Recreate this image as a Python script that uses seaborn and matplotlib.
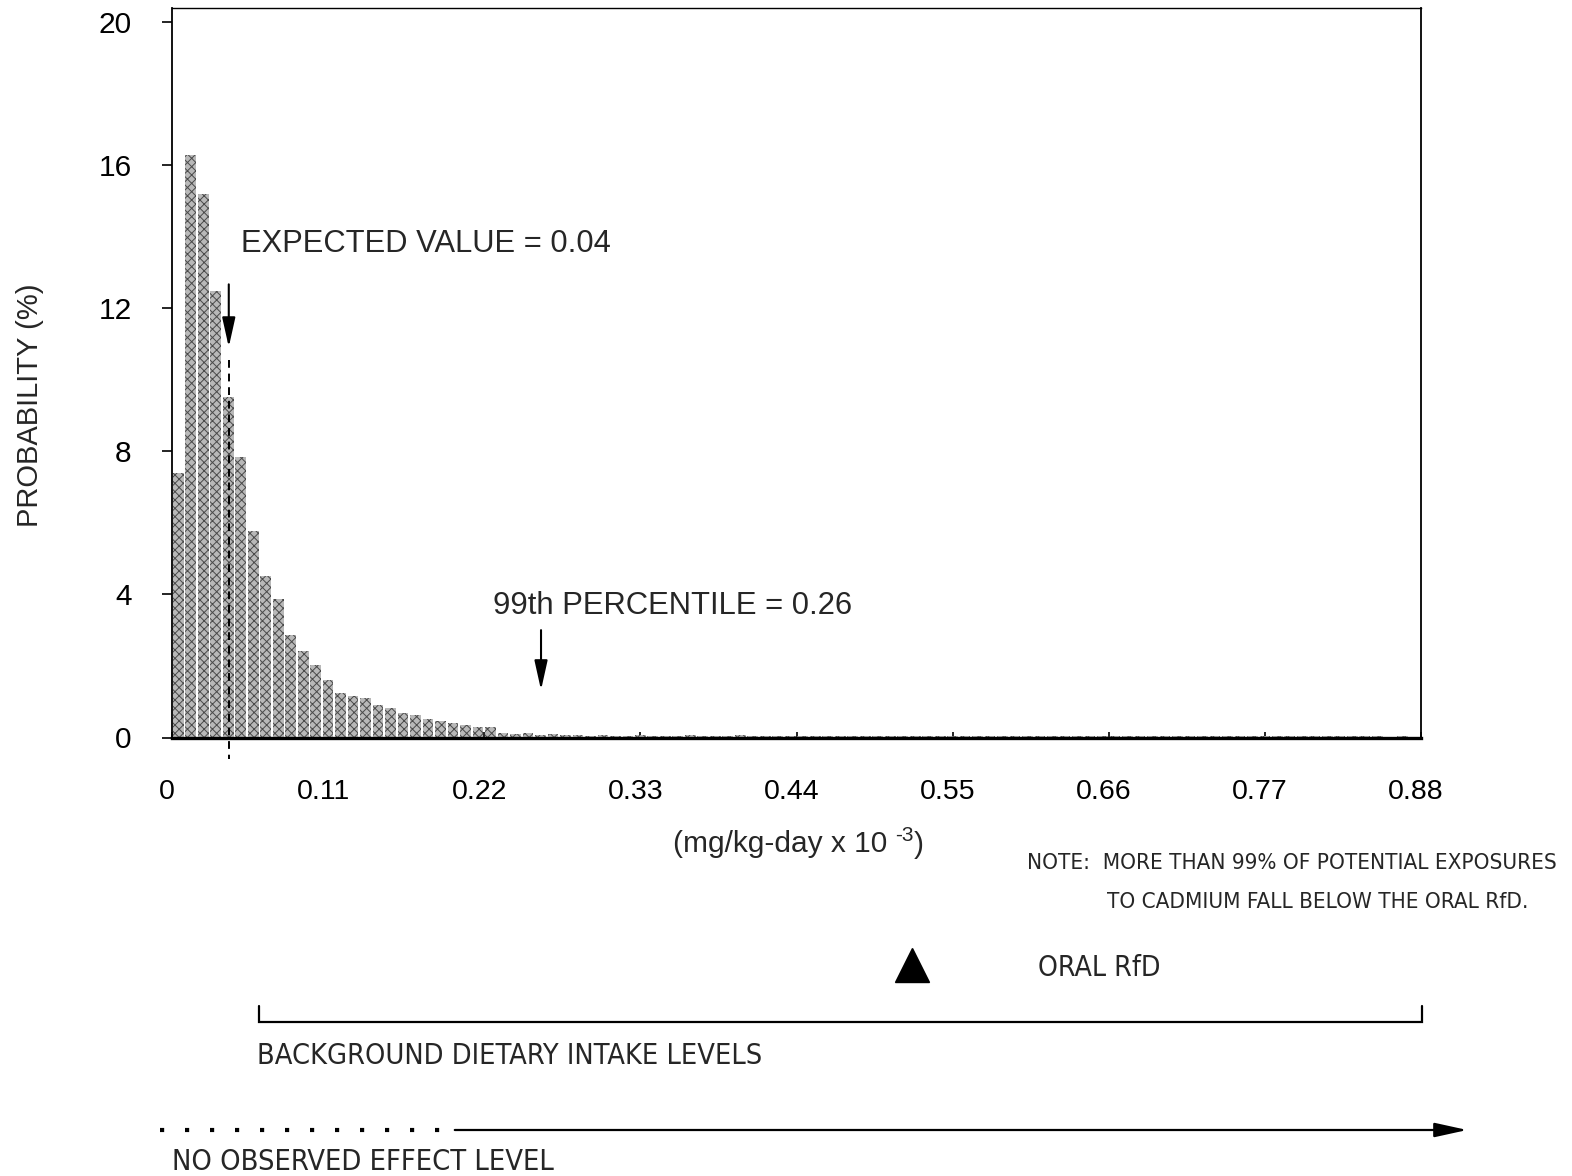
import numpy as np
import pandas as pd
import matplotlib
matplotlib.use("Agg")
import matplotlib.pyplot as plt
import matplotlib.transforms as mtrans
import seaborn as sns
from matplotlib import font_manager as fm
from matplotlib.font_manager import FontProperties

# Probability (%) for each of 100 equal dose intervals between 0 and 0.88
prob_head = [7.39, 16.30, 15.21, 12.48, 9.52, 7.85, 5.77, 4.51, 3.88, 2.88,
             2.41, 2.04, 1.62, 1.25, 1.16, 1.11, 0.90, 0.83, 0.68, 0.62,
             0.52, 0.47, 0.40, 0.35, 0.30, 0.30, 0.12, 0.10, 0.12, 0.08,
             0.10, 0.08]
prob_tail = [0.06, 0.05, 0.07, 0.05, 0.04, 0.06, 0.05, 0.04, 0.05, 0.06,
             0.04, 0.05, 0.04, 0.06, 0.05, 0.04, 0.05, 0.04, 0.03, 0.05,
             0.04, 0.05, 0.04, 0.03, 0.05, 0.04, 0.04, 0.05, 0.03, 0.04,
             0.05, 0.04, 0.03, 0.04, 0.05, 0.04, 0.03, 0.04, 0.04, 0.05,
             0.03, 0.04, 0.05, 0.04, 0.03, 0.04, 0.04, 0.03, 0.05, 0.04,
             0.03, 0.04, 0.04, 0.03, 0.04, 0.05, 0.03, 0.04, 0.04, 0.03,
             0.04, 0.03, 0.04, 0.03, 0.03, 0.02, 0.03, 0.02]
dose_min, dose_max = 0.0, 0.88

x_ticks = [0, 0.11, 0.22, 0.33, 0.44, 0.55, 0.66, 0.77, 0.88]
x_tick_labels = ["0", "0.11", "0.22", "0.33", "0.44", "0.55", "0.66", "0.77", "0.88"]
y_ticks = [0, 4, 8, 12, 16, 20]

expected_value = 0.04
percentile_99 = 0.26

sns.set_theme(style="white")
names = {f.name for f in fm.fontManager.ttflist}
base_font = "Liberation Sans" if "Liberation Sans" in names else "DejaVu Sans"
plt.rcParams["font.family"] = [base_font, "DejaVu Sans"]
plt.rcParams["hatch.color"] = "#4a4a4a"
plt.rcParams["hatch.linewidth"] = 0.7


def find_condensed_font():
    """Pick an upright, regular-weight narrow sans face if one is installed."""
    families = ["Liberation Sans Narrow", "Noto Sans", "DejaVu Sans", "Roboto",
                "Open Sans", "Lato", "Inter", "Liberation Sans"]
    best = None
    for rank, fam in enumerate(families):
        for f in fm.fontManager.ttflist:
            nm = f.name
            if not nm.startswith(fam) or "Mono" in nm or "CJK" in nm or "Display" in nm:
                continue
            if f.style != "normal" or str(f.weight).lower() not in ("400", "normal", "regular", "book"):
                continue
            narrow = ("Narrow" in nm or "Condensed" in nm or "Narrow" in f.fname
                      or "Condensed" in f.fname or f.stretch in ("condensed", "semi-condensed"))
            if not narrow:
                continue
            if "Extra" in f.fname or "Ultra" in f.fname or "Semi" in f.fname:
                score = (rank, 1)
            else:
                score = (rank, 0)
            if best is None or score < best[0]:
                best = (score, f.fname)
    return FontProperties(fname=best[1]) if best else FontProperties(family=base_font)


narrow_fp = find_condensed_font()

W, H = 1572, 1176
fig = plt.figure(figsize=(W / 100, H / 100), dpi=100)
fig.patch.set_facecolor("white")

ax_l, ax_r, ax_t, ax_b = 172, 1421, 8, 737.5
ax = fig.add_axes([ax_l / W, 1 - ax_b / H, (ax_r - ax_l) / W, (ax_b - ax_t) / H])

probs = np.array(prob_head + prob_tail)
n_bins = len(probs)
bin_w = (dose_max - dose_min) / n_bins
centers = dose_min + bin_w * (np.arange(n_bins) + 0.5)
df = pd.DataFrame({"dose": centers, "prob": probs})

sns.histplot(data=df, x="dose", weights="prob", bins=n_bins,
             binrange=(dose_min, dose_max), shrink=0.86,
             color="#b8b8b8", alpha=1, linewidth=0, ax=ax)
for p in ax.patches:
    p.set_hatch("xxxx")
    p.set_edgecolor("#4a4a4a")
    p.set_linewidth(0)

ax.set_xlim(dose_min, dose_max)
ax.set_ylim(0, 20.4)
ax.set_xticks(x_ticks)
ax.set_xticklabels(x_tick_labels)
ax.set_yticks(y_ticks)
ax.set_xlabel("")
ax.set_ylabel("")
ax.tick_params(axis="y", direction="out", length=7, width=1.2, pad=22,
               labelsize=21.5, left=True, color="black", labelcolor="black")
ax.tick_params(axis="x", direction="in", length=4, width=1.2, pad=30,
               labelsize=20.5, bottom=True, color="black", labelcolor="black")
shift = mtrans.ScaledTranslation(-5 / 100, 0, fig.dpi_scale_trans)
for lab in ax.get_xticklabels():
    lab.set_transform(lab.get_transform() + shift)
for side, lw in [("left", 1.3), ("right", 1.3), ("top", 1.0), ("bottom", 2.4)]:
    ax.spines[side].set_visible(True)
    ax.spines[side].set_color("black")
    ax.spines[side].set_linewidth(lw)

arrow_kw = dict(arrowstyle="-|>,head_length=0.9,head_width=0.2",
                color="black", lw=1.5, mutation_scale=20)
# Expected value marker
ax.annotate("", xy=(expected_value, 10.84), xytext=(expected_value, 12.75),
            arrowprops=arrow_kw)
ax.plot([expected_value, expected_value], [10.55, -0.6], color="black", lw=1.4,
        ls=(0, (4, 3)), clip_on=False, zorder=5)
# 99th percentile marker
ax.annotate("", xy=(percentile_99, 1.25), xytext=(percentile_99, 3.08),
            arrowprops=arrow_kw)

# Overlay in pixel units for text and schematic bars below the chart
ov = fig.add_axes([0, 0, 1, 1])
ov.set_xlim(0, W)
ov.set_ylim(H, 0)
ov.axis("off")
renderer = fig.canvas.get_renderer()


def fit_text(x, y, s, width, size, **kw):
    """Place left-aligned text and scale its size to span the given pixel width."""
    t = ov.text(x, y, s, fontsize=size, ha="left", va="center", **kw)
    w = t.get_window_extent(renderer=renderer).width
    t.set_fontsize(size * width / w)
    return t


fit_text(241, 244.5, f"EXPECTED VALUE = {expected_value:.2f}", 369, 22)
fit_text(493, 606, f"99th PERCENTILE = {percentile_99:.2f}", 358, 22)
ov.text(30, 405, "PROBABILITY (%)", fontsize=21, rotation=90,
        ha="center", va="center")

# Axis unit label with a raised exponent
t_unit = ov.text(673, 843.5, "(mg/kg-day x 10 ", fontsize=21.5, ha="left", va="center")
t_exp = ov.annotate("-3", xy=(1, 0.78), xycoords=t_unit, fontsize=15,
                    ha="left", va="center")
ov.annotate(")", xy=(1, 0.5), xycoords=t_exp, xytext=(0, -6.5),
            textcoords="offset points", fontsize=21.5, ha="left", va="center")

fit_text(1027, 863, "NOTE:  MORE THAN 99% OF POTENTIAL EXPOSURES", 531, 16,
         fontproperties=narrow_fp)
fit_text(1107, 901.5, "TO CADMIUM FALL BELOW THE ORAL RfD.", 423, 16,
         fontproperties=narrow_fp)

ov.plot([912], [965], marker="^", ms=24, color="black", mec="black")
fit_text(1038, 968.5, "ORAL RfD", 122, 19, fontproperties=narrow_fp)

ov.plot([259, 259, 1422, 1422], [1006, 1022, 1022, 1006], color="black", lw=1.6,
        solid_joinstyle="miter")
fit_text(257, 1056, "BACKGROUND DIETARY INTAKE LEVELS", 506, 19,
         fontproperties=narrow_fp)

ov.plot([160, 440], [1130, 1130], color="black", lw=3.0, ls=(0, (1, 5)),
        dash_capstyle="butt")
ov.annotate("", xy=(1470, 1130), xytext=(452, 1130),
            arrowprops=dict(arrowstyle="-|>,head_length=1.0,head_width=0.22",
                            color="black", lw=1.6, mutation_scale=20))
fit_text(172, 1162, "NO OBSERVED EFFECT LEVEL", 383, 19, fontproperties=narrow_fp)

fig.savefig("out.png", dpi=100, facecolor="white")
